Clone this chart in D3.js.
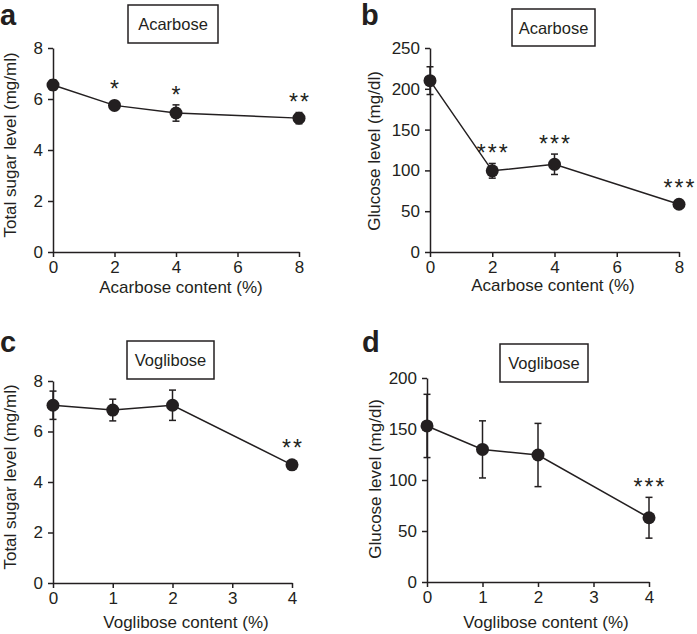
<!DOCTYPE html>
<html>
<head>
<meta charset="utf-8">
<script src="https://cdn.jsdelivr.net/npm/d3@7/dist/d3.min.js"></script>
<style>
  body { margin: 0; background: #fff; }
  text { font-family: "Liberation Sans", Arial, sans-serif; fill: #231f20; }
  .axis path, .axis line { stroke: #231f20; stroke-width: 1.5; }
  .axis text { font-size: 17px; }
</style>
</head>
<body>
<script>
// data
var acarboseX = [0, 2, 4, 8];
var sugarAcarbose = [6.55, 5.75, 5.45, 5.25];
var sugarAcarboseErr = [0.2, 0.15, 0.32, 0.22];
var sugarAcarboseStars = ["", "*", "*", "**"];
var glucoseAcarbose = [210, 99.5, 107.5, 58.5];
var glucoseAcarboseErr = [17, 9, 12.5, 3];
var glucoseAcarboseStars = ["", "***", "***", "***"];

var vogliboseX = [0, 1, 2, 4];
var sugarVoglibose = [7.04, 6.85, 7.04, 4.68];
var sugarVogliboseErr = [0.56, 0.43, 0.6, 0.1];
var sugarVogliboseStars = ["", "", "", "**"];
var glucoseVoglibose = [153, 130, 124.5, 63];
var glucoseVogliboseErr = [31, 28, 31, 20];
var glucoseVogliboseStars = ["", "", "", "***"];

var acarboseTicksX = [0, 2, 4, 6, 8];
var vogliboseTicksX = [0, 1, 2, 3, 4];
var sugarTicksY = [0, 2, 4, 6, 8];
var glucoseTicksYA = [0, 50, 100, 150, 200, 250];
var glucoseTicksYV = [0, 50, 100, 150, 200];

var w = 697, h = 634;

var svg = d3.select("body")
            .append("svg")
            .attr("width", w)
            .attr("height", h);

// one entry per panel: data + where it sits
var panels = [
  { letter: "a", lx: 0, ly: 25, title: "Acarbose", box: [128, 5, 90, 38],
    x: acarboseX, y: sugarAcarbose, err: sugarAcarboseErr, stars: sugarAcarboseStars,
    xTicks: acarboseTicksX, yTicks: sugarTicksY,
    left: 53, right: 299, top: 48, bottom: 252,
    yLabel: "Total sugar level (mg/ml)", yLabelX: 15.5, yLabelY: 145,
    xLabel: "Acarbose content (%)", xLabelX: 181, xLabelY: 293 },
  { letter: "b", lx: 361, ly: 25, title: "Acarbose", box: [512, 9, 83, 37],
    x: acarboseX, y: glucoseAcarbose, err: glucoseAcarboseErr, stars: glucoseAcarboseStars,
    xTicks: acarboseTicksX, yTicks: glucoseTicksYA,
    left: 430, right: 679, top: 48, bottom: 252,
    yLabel: "Glucose level (mg/dl)", yLabelX: 380, yLabelY: 151,
    xLabel: "Acarbose content (%)", xLabelX: 553, xLabelY: 291 },
  { letter: "c", lx: 0, ly: 352, title: "Voglibose", box: [127, 341, 87, 38],
    x: vogliboseX, y: sugarVoglibose, err: sugarVogliboseErr, stars: sugarVogliboseStars,
    xTicks: vogliboseTicksX, yTicks: sugarTicksY,
    left: 53, right: 292, top: 381, bottom: 583,
    yLabel: "Total sugar level (mg/ml)", yLabelX: 16, yLabelY: 477,
    xLabel: "Voglibose content (%)", xLabelX: 186, xLabelY: 628 },
  { letter: "d", lx: 362, ly: 352, title: "Voglibose", box: [500, 344, 88, 38],
    x: vogliboseX, y: glucoseVoglibose, err: glucoseVogliboseErr, stars: glucoseVogliboseStars,
    xTicks: vogliboseTicksX, yTicks: glucoseTicksYV,
    left: 427, right: 649, top: 378, bottom: 582,
    yLabel: "Glucose level (mg/dl)", yLabelX: 381, yLabelY: 479,
    xLabel: "Voglibose content (%)", xLabelX: 546, xLabelY: 628 }
];

var r = 6.5, cap = 3.5;

panels.forEach(function(p) {
  var xScale = d3.scaleLinear()
                 .domain([d3.min(p.xTicks), d3.max(p.xTicks)])
                 .range([p.left, p.right]);
  var yScale = d3.scaleLinear()
                 .domain([d3.min(p.yTicks), d3.max(p.yTicks)])
                 .range([p.bottom, p.top]);

  var g = svg.append("g");

  // panel letter
  g.append("text")
   .attr("x", p.lx).attr("y", p.ly)
   .style("font-size", "29px").style("font-weight", "bold")
   .text(p.letter);

  // title box
  g.append("rect")
   .attr("x", p.box[0]).attr("y", p.box[1])
   .attr("width", p.box[2]).attr("height", p.box[3])
   .attr("fill", "none").attr("stroke", "#231f20").attr("stroke-width", 1.5);
  g.append("text")
   .attr("x", p.box[0] + p.box[2] / 2)
   .attr("y", p.box[1] + p.box[3] / 2 + 6)
   .attr("text-anchor", "middle")
   .style("font-size", "16.5px")
   .text(p.title);

  // axes
  g.append("g")
   .attr("class", "axis")
   .attr("transform", "translate(0," + p.bottom + ")")
   .call(d3.axisBottom(xScale).tickValues(p.xTicks).tickFormat(d3.format("d"))
           .tickSize(5).tickSizeOuter(0).tickPadding(4));
  g.append("g")
   .attr("class", "axis")
   .attr("transform", "translate(" + p.left + ",0)")
   .call(d3.axisLeft(yScale).tickValues(p.yTicks).tickFormat(d3.format("d"))
           .tickSize(5).tickSizeOuter(0).tickPadding(5));

  // axis titles
  g.append("text")
   .attr("transform", "translate(" + p.yLabelX + "," + p.yLabelY + ") rotate(-90)")
   .attr("text-anchor", "middle")
   .style("font-size", "17px")
   .text(p.yLabel);
  g.append("text")
   .attr("x", p.xLabelX).attr("y", p.xLabelY)
   .attr("text-anchor", "middle")
   .style("font-size", "17px")
   .text(p.xLabel);

  var rows = p.x.map(function(d, i) {
    return { x: d, y: p.y[i], e: p.err[i], s: p.stars[i] };
  });

  // error bars
  var eb = g.append("g").attr("stroke", "#231f20").attr("stroke-width", 1.5);
  rows.forEach(function(d) {
    var cx = xScale(d.x), y1 = yScale(d.y + d.e), y2 = yScale(d.y - d.e);
    eb.append("line").attr("x1", cx).attr("x2", cx).attr("y1", y1).attr("y2", y2);
    eb.append("line").attr("x1", cx - cap).attr("x2", cx + cap).attr("y1", y1).attr("y2", y1);
    eb.append("line").attr("x1", cx - cap).attr("x2", cx + cap).attr("y1", y2).attr("y2", y2);
  });

  // connecting line
  g.append("path")
   .datum(rows)
   .attr("fill", "none")
   .attr("stroke", "#231f20")
   .attr("stroke-width", 1.5)
   .attr("d", d3.line().x(function(d) { return xScale(d.x); }).y(function(d) { return yScale(d.y); }));

  // markers
  g.selectAll("circle")
   .data(rows)
   .enter()
   .append("circle")
   .attr("cx", function(d) { return xScale(d.x); })
   .attr("cy", function(d) { return yScale(d.y); })
   .attr("r", r)
   .attr("fill", "#231f20");

  // significance stars
  g.selectAll("text.star")
   .data(rows.filter(function(d) { return d.s; }))
   .enter()
   .append("text")
   .attr("class", "star")
   .attr("x", function(d) { return xScale(d.x) + 1; })
   .attr("y", function(d) { return Math.min(yScale(d.y + d.e), yScale(d.y) - r) - 2; })
   .attr("text-anchor", "middle")
   .style("font-size", "23px")
   .style("letter-spacing", "2px")
   .text(function(d) { return d.s; });
});
</script>
</body>
</html>
